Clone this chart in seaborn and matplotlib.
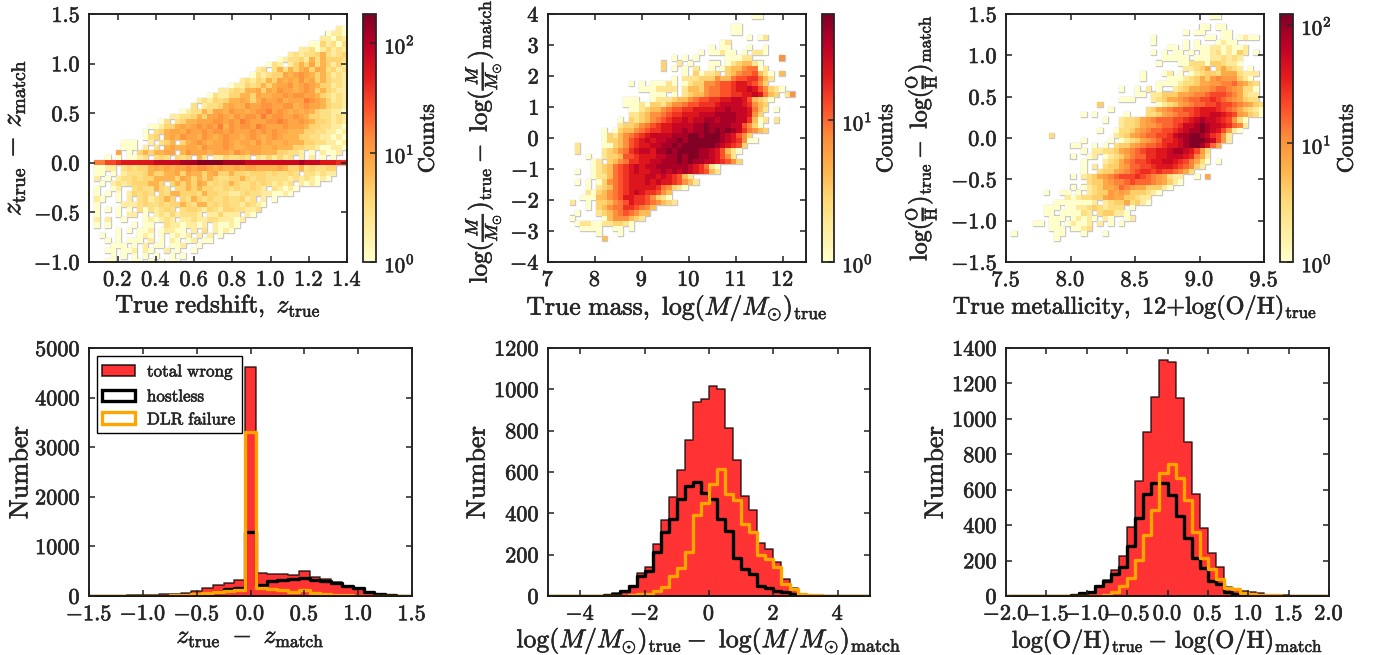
import numpy as np
import matplotlib
matplotlib.use("Agg")
import matplotlib.pyplot as plt
import matplotlib.patheffects as pe
from matplotlib.colors import LogNorm
from matplotlib.patches import Patch
from matplotlib.text import Text
import seaborn as sns

sns.set_style("ticks")
plt.rcParams["font.family"] = ["cmr10", "DejaVu Sans"]
plt.rcParams["mathtext.fontset"] = "cm"
plt.rcParams["axes.unicode_minus"] = False
plt.rcParams["axes.formatter.use_mathtext"] = True
plt.rcParams["axes.axisbelow"] = False

# cell readings: one character per 2d histogram cell
LEVELS = {"1": 1, "2": 2, "3": 3, "4": 4, "5": 7, "6": 9, "7": 12, "8": 16, "9": 22,
          "A": 30, "B": 40, "C": 55, "D": 80, "E": 120, "F": 180}

# each row, top to bottom: first column, then the cells from there
z_rows = [
    (46, "21"),
    (44, "1221"),
    (43, "22132"),
    (41, "1142313"),
    (39, "223124232"),
    (37, "23233453234"),
    (35, "1233425354443"),
    (33, "132.24546354242"),
    (31, "23.35354564653423"),
    (30, "132344656765454232"),
    (28, "23243546565756454332"),
    (26, "1224345456675676544232"),
    (24, "223435564657665676454322"),
    (22, "13224455465566767766543232"),
    (20, "2324345565457667566687654232"),
    (19, "3.233456557667766775676654332"),
    (17, "1233546657665677867656565433221"),
    (15, "223345466765767768677667654433232"),
    (13, "13.34556667767687666778766765443232"),
    (11, "1124456567676857677687666766654433221"),
    (10, "1.34566576676776766676767665554433221212"),
    (10, "134.56576657656766567656765554433221212"),
    (6, "111..2.345.456765667656657565565554433221212"),
    (6, "111.2.3.56556657666765566655655544332112212"),
    (5, "6.1.4545566.57666566657656655544332.1.2112"),
    (3, "1.1.1123.343.434.53.2243343.3242423.2.2.1.1"),
    (1, "88AABCCCCCCDDDDDEEEFFFFFEEEEDDDDDDDDDDEDDDCCCBBA9A"),
    (1, "1122.3434456565667677656556566555565445343344"),
    (1, "11.1.233345445564655456445443444343343.332322"),
    (1, "2.1.2334344555546545454334454344333323232121"),
    (2, "1.2323444554.45454653434543343432323.2121"),
    (1, "1..12..3433543.44545443343433432.32121"),
    (1, "1.1.1.24343.4355444354433223433221121"),
    (1, "21..1.2.3423454.43543433433423.2.1"),
    (1, "1....222343343445435534343324321"),
    (1, "1.1.1.1.3132343.344324324433223"),
    (1, "1...1.22.1.232423332.224222.21"),
    (1, "2.2..1...121232.223223322212"),
    (1, "1.1....1.11..32212212.21121"),
    (1, "....1.1.112.12211.2.3.2121"),
    (1, ".1..1...121.1.1212.2.2.1"),
    (1, "..1.1.111.2.1.21.12.11"),
    (1, "...111.1.2.11.112..1."),
    (1, "..11.112.21..2.1..1"),
    (1, "...1.1.1.1.1..1.1"),
    (2, ".11...11.1.1.11"),
]

mass_rows = [
    (38, "11"),
    (0, ""),
    (34, "11"),
    (34, "11"),
    (37, "1.12"),
    (32, "12"),
    (30, "1.11...1..1"),
    (28, "1.11211.1.221"),
    (21, "..1.1.1.....11122.....5"),
    (21, "3..2.1...11.1234421"),
    (21, "3.1.1.2..1.134456612"),
    (25, "1.31223.345667421.4"),
    (23, "1.22233354467788642"),
    (15, "1.1.11121.1233556778998753"),
    (17, "1112222.244356677899A975321"),
    (19, "111.1.2344566778899A9643.25"),
    (14, "111..122234456778899AA974321"),
    (14, "111213324556778889AAAA98543"),
    (15, "1123445677889999AABAAA9642.1"),
    (15, "2234556788999AAABBBBAA953"),
    (13, "1.3234567899A9AABBABBBAA8412.2"),
    (13, "2334567899AAAABBCBBBBAA7531"),
    (10, "1.13445678899AABABBCBCBCBA86543"),
    (10, "132456789AAAABBBCCBCCCBA9753"),
    (10, "13345789A9AABBCBCCDCCCBA98511"),
    (5, "2....113457899AABBCBCDCDCCBA9873"),
    (5, "2....2345689AA9BBCBCCCCBBA97421"),
    (7, "1..2334778999AABBCBCCBBA9752"),
    (8, "12.34568899AABBBCBCBBAA98753"),
    (8, "12346789A9AABBBBBBA98621"),
    (5, "1..12346789A99AABABABA98742"),
    (8, "1224678999AA9A98742"),
    (5, "1.1.135678999A9A9987542"),
    (7, "1.23467899999865321"),
    (7, "213456789A988754"),
    (6, "11144567998875321"),
    (4, "2..1.334567988765432"),
    (7, "1.34566887654"),
    (5, "1...2345676544"),
    (4, "1.....14555432"),
    (5, "12211223321"),
    (6, "1111..11.1"),
    (9, "1...1"),
    (10, "4"),
]

metal_rows = [
    (38, "11"),
    (0, ""),
    (36, "11.11"),
    (33, "1.11...11"),
    (27, "1.........11.11.1211"),
    (27, "1.....1.1...1211..."),
    (30, "11.1.1112212112"),
    (27, "1.1.11.1.112312142.1"),
    (29, "11111.111223232"),
    (28, "1...113331443221"),
    (31, "..22345.45432.1....1"),
    (25, "1...12.1.1234435553222.4"),
    (25, "1....1112345467666421"),
    (28, "1111233455667786543"),
    (21, "1..1.2.1..2345566788765331"),
    (24, "11.22444556778999875322"),
    (21, "111...23455678899A98765433"),
    (17, "4..........12345678899A9987654322"),
    (17, "..1......345678899ABBBA98754321"),
    (14, "1.1.....1...334567889ABBCCBA965431"),
    (18, "1..233456788899ABCDCCBA9631"),
    (21, "23345667889ACCDEDCCBA872"),
    (17, "1..13345678899ABCDDEDCB9621"),
    (8, "3...........2345678899ACDDEEDCA962"),
    (14, "1....1.12345678AABCDEFEDC962"),
    (12, "11..1.1.344567889ABBCDEEDB85"),
    (14, "1.2233456789AABBCDDCB963"),
    (12, "1..12.12345788AABBCCCBA752"),
    (14, "1...23457899ABBCCBA97531.1"),
    (14, "1.2.344568899ABBBA98742"),
    (14, "1..34456789AA9A998753"),
    (12, "1.2345678999A98765322..1.5"),
    (15, "344567789888765421"),
    (12, "1.12345568765544421"),
    (7, "1..11.1.23446565444321"),
    (11, "2123344565544322"),
    (9, "11111112.234453421"),
    (7, "111.11223432333.1"),
    (7, "11.111132.344221"),
    (8, "111.12121.21..12"),
    (5, "11.11.12112.2.1.1"),
    (8, "111.1123"),
    (1, "1.......11...1...1"),
    (9, "1"),
]

# redshift residual histogram, bins 0.1 wide centred from -1.5 to 1.5
z_wrong = [5, 5, 8, 10, 12, 15, 20, 40, 50, 65, 110, 170, 230, 270, 320, 4620,
           460, 450, 450, 420, 510, 380, 350, 280, 210, 170, 90, 50, 20, 10, 5]
z_hostless = [0, 0, 0, 0, 0, 2, 5, 8, 12, 15, 20, 40, 90, 150, 170, 1300,
              230, 300, 320, 340, 370, 330, 300, 270, 200, 160, 90, 45, 20, 8, 2]
z_dlr = [3, 3, 4, 5, 6, 8, 10, 10, 15, 25, 40, 60, 80, 100, 120, 3300,
         170, 140, 130, 90, 130, 60, 40, 30, 20, 10, 6, 4, 3, 2, 1]

# mass residual histogram, bins 0.25 wide from -5 to 5
mass_wrong = [1, 1, 1, 1, 1, 1, 2, 5, 15, 25, 50, 110, 140, 250, 370, 480,
              608, 755, 940, 953, 1014, 1000, 813, 658, 482, 415, 257, 226, 165, 84, 40, 12,
              6, 3, 2, 2, 1, 1, 1, 1]
mass_hostless = [0, 0, 0, 0, 0, 0, 0, 3, 10, 25, 50, 95, 120, 215, 310, 375,
                 470, 530, 550, 500, 470, 375, 315, 185, 130, 105, 50, 40, 25, 18, 8, 3,
                 1, 0, 0, 0, 0, 0, 0, 0]
mass_dlr = [2, 2, 2, 2, 2, 2, 2, 1, 2, 2, 3, 10, 12, 25, 45, 95,
            135, 215, 390, 450, 540, 615, 495, 465, 350, 310, 200, 180, 140, 60, 35, 12,
            6, 3, 2, 2, 2, 2, 2, 2]

# metallicity residual histogram, bins 0.1 wide from -2 to 2
metal_wrong = [1, 1, 1, 1, 1, 1, 2, 2, 5, 15, 25, 55, 90, 145, 225, 390, 650, 925, 1125, 1335,
               1320, 1120, 870, 575, 385, 240, 165, 50, 35, 30, 22, 15, 8, 5, 3, 2, 1, 1, 1, 1]
metal_hostless = [0, 0, 0, 0, 0, 0, 0, 2, 5, 15, 25, 55, 85, 125, 165, 285, 440, 575, 640, 640,
                  570, 450, 325, 215, 160, 85, 65, 20, 12, 3, 1, 0, 0, 0, 0, 0, 0, 0, 0, 0]
metal_dlr = [1, 1, 1, 1, 1, 1, 1, 1, 1, 1, 1, 2, 5, 20, 55, 100, 205, 345, 485, 695,
             745, 665, 540, 360, 215, 150, 95, 45, 40, 15, 10, 6, 4, 3, 2, 1, 1, 1, 1, 1]

W, H = 1379, 655
CMAP = plt.get_cmap("YlOrRd")
RED = "#ff0000"
HALO = "#c8c8c8"


def px_axes(fig, left, top, right, bottom):
    return fig.add_axes([left / W, 1 - bottom / H, (right - left) / W, (bottom - top) / H])


def tick_text(values, fmt):
    return [r"$\mathbf{" + (fmt % v) + "}$" for v in values]


def style_axes(ax, xticks, xfmt, yticks, yfmt):
    ax.set_xticks(xticks, labels=tick_text(xticks, xfmt))
    ax.set_yticks(yticks, labels=tick_text(yticks, yfmt))
    ax.tick_params(direction="in", top=True, right=True, length=4, width=1.1,
                   labelsize=16, pad=6, color="#222222")
    for s in ax.spines.values():
        s.set_linewidth(1.3)
        s.set_color("#111111")
    ax.grid(False)


def to_grid(rows, nrows, ncols=48):
    grid = np.zeros((nrows, ncols))
    for r, (start, cells) in enumerate(rows):
        for c, ch in enumerate(cells):
            if start + c < ncols:
                grid[r, start + c] = LEVELS.get(ch, 0)
    return grid[::-1]


def heat_panel(fig, box, cbox, rows, xedges, yedges, vmax, cticks, labelx):
    ax = px_axes(fig, *box)
    grid = to_grid(rows, len(yedges) - 1)
    xc = (xedges[:-1] + xedges[1:]) / 2
    yc = (yedges[:-1] + yedges[1:]) / 2
    xx, yy = np.meshgrid(xc, yc)
    keep = grid > 0
    # grey halo round the filled cells, the colour mesh covers its inner half
    dx = xedges[1] - xedges[0]
    dy = yedges[1] - yedges[0]
    ax.bar(xx[keep], dy, width=dx, bottom=yy[keep] - dy / 2, color=HALO, edgecolor=HALO, linewidth=1.0)
    sns.histplot(x=xx[keep], y=yy[keep], weights=grid[keep], bins=[xedges, yedges],
                 cmap=CMAP, thresh=0, ax=ax)
    mesh = ax.collections[-1]
    mesh.set_norm(LogNorm(1, vmax))
    cax = px_axes(fig, *cbox)
    cbar = fig.colorbar(mesh, cax=cax)
    cax.minorticks_off()
    cbar.set_ticks(cticks, labels=[r"$\mathbf{10^{%d}}$" % np.log10(t) for t in cticks])
    cax.tick_params(which="major", direction="in", length=4, width=1.1, labelsize=15, pad=6)
    cbar.outline.set_linewidth(1.3)
    cbar.set_label(r"$\mathrm{Counts}$", fontsize=16)
    cax.yaxis.set_label_coords(labelx, 0.5)
    return ax


def hist_panel(fig, box, edges, wrong, hostless, dlr):
    ax = px_axes(fig, *box)
    xc = (edges[:-1] + edges[1:]) / 2
    # bins as a plain list, seaborn compares it with "auto" when weights are given
    bins = edges.tolist()
    sns.histplot(x=xc, weights=wrong, bins=bins, element="step", color=RED, alpha=0.8,
                 edgecolor=(0, 0, 0, 0.7), linewidth=1.2, ax=ax)
    sns.histplot(x=xc, weights=hostless, bins=bins, element="step", fill=False,
                 color="black", linewidth=2.4, ax=ax)
    sns.histplot(x=xc, weights=dlr, bins=bins, element="step", fill=False,
                 color="orange", linewidth=2.4, ax=ax)
    ax.set_xlabel("")
    ax.set_ylabel("")
    return ax


fig = plt.figure(figsize=(W / 100, H / 100), dpi=100)

# redshift map
ax = heat_panel(fig, (89, 14, 347, 262), (363, 14, 376, 262), z_rows,
                np.linspace(0.05, 1.4, 49), -1.017 + 0.0521 * np.arange(47), 185,
                [1, 10, 100], 4.25)
ax.set_xlim(0.05, 1.4)
ax.set_ylim(-1, 1.5)
style_axes(ax, np.arange(0.2, 1.41, 0.2), "%.1f", np.arange(-1, 1.51, 0.5), "%.1f")
ax.set_xlabel(r"$\mathrm{True\ redshift,}\ z_{\mathrm{true}}$", fontsize=18, labelpad=2)
ax.set_ylabel(r"$z_{\mathrm{true}}\,-\,z_{\mathrm{match}}$", fontsize=20)
ax.yaxis.set_label_coords(-0.24, 0.5)

# mass map
ax = heat_panel(fig, (548, 14, 806, 262), (822, 14, 834, 262), mass_rows,
                np.linspace(7, 12.5, 49), np.linspace(4 - 44 / 6, 4, 45), 56,
                [1, 10], 4.55)
ax.set_xlim(7, 12.5)
ax.set_ylim(-4, 4)
style_axes(ax, np.arange(7, 12.1, 1), "%d", np.arange(-4, 4.1, 1), "%d")
ax.set_xlabel(r"$\mathrm{True\ mass,}\ \log(M/M_{\odot})_{\mathrm{true}}$", fontsize=18.5, labelpad=2)
ax.set_ylabel(r"$\log(\frac{M}{M_{\odot}})_{\mathrm{true}}-\ \log(\frac{M}{M_{\odot}})_{\mathrm{match}}$",
              fontsize=18)
ax.yaxis.set_label_coords(-0.174, 0.486)

# metallicity map
ax = heat_panel(fig, (1006, 14, 1264, 262), (1280, 14, 1293, 262), metal_rows,
                np.linspace(7.5, 9.5, 49), np.linspace(1.5 - 44 * 0.0625, 1.5, 45), 123,
                [1, 10, 100], 4.4)
ax.set_xlim(7.5, 9.5)
ax.set_ylim(-1.5, 1.5)
style_axes(ax, np.arange(7.5, 9.51, 0.5), "%.1f", np.arange(-1.5, 1.51, 0.5), "%.1f")
ax.set_xlabel(r"$\mathrm{True\ metallicity,\ 12{+}log(O/H)_{true}}$", fontsize=17.5, labelpad=2)
ax.set_ylabel(r"$\log(\frac{\mathrm{O}}{\mathrm{H}})_{\mathrm{true}}-\ \log(\frac{\mathrm{O}}{\mathrm{H}})_{\mathrm{match}}$",
              fontsize=17.3)
ax.yaxis.set_label_coords(-0.26, 0.5)

# redshift residuals
ax = hist_panel(fig, (89, 348, 412, 596), -1.55 + 0.1 * np.arange(32), z_wrong, z_hostless, z_dlr)
ax.set_xlim(-1.5, 1.5)
ax.set_ylim(0, 5000)
style_axes(ax, np.arange(-1.5, 1.51, 0.5), "%.1f", np.arange(0, 5001, 1000), "%d")
ax.set_xlabel(r"$z_{\mathrm{true}}\ -\ z_{\mathrm{match}}$", fontsize=18, labelpad=2)
ax.set_ylabel(r"$\mathrm{Number}$", fontsize=19)
ax.yaxis.set_label_coords(-0.175, 0.5)
handles = [Patch(facecolor=RED, alpha=0.8, edgecolor="black", linewidth=1.2),
           Patch(facecolor="none", edgecolor="black", linewidth=2.4),
           Patch(facecolor="none", edgecolor="orange", linewidth=2.4)]
ax.legend(handles, [r"$\mathrm{total\ wrong}$", r"$\mathrm{hostless}$", r"$\mathrm{DLR\ failure}$"],
          loc="upper left", fontsize=12.3, frameon=True, fancybox=False, framealpha=1,
          edgecolor="black", borderaxespad=0.47, labelspacing=0.35,
          handlelength=1.9, handletextpad=0.7, borderpad=0.32)

# mass residuals
ax = hist_panel(fig, (548, 348, 870, 596), -5 + 0.25 * np.arange(41), mass_wrong, mass_hostless, mass_dlr)
ax.set_xlim(-5, 5)
ax.set_ylim(0, 1200)
style_axes(ax, np.arange(-4, 4.1, 2), "%d", np.arange(0, 1201, 200), "%d")
ax.set_xlabel(r"$\log(M/M_{\odot})_{\mathrm{true}}-\ \log(M/M_{\odot})_{\mathrm{match}}$", fontsize=18.5, labelpad=1)
ax.set_ylabel(r"$\mathrm{Number}$", fontsize=19)
ax.yaxis.set_label_coords(-0.181, 0.5)

# metallicity residuals
ax = hist_panel(fig, (1006, 348, 1329, 596), -2 + 0.1 * np.arange(41), metal_wrong, metal_hostless, metal_dlr)
ax.set_xlim(-2, 2)
ax.set_ylim(0, 1400)
style_axes(ax, np.arange(-2, 2.01, 0.5), "%.1f", np.arange(0, 1401, 200), "%d")
ax.set_xlabel(r"$\mathrm{log(O/H)_{true}}-\,\mathrm{log(O/H)_{match}}$", fontsize=17.5, labelpad=2)
ax.set_ylabel(r"$\mathrm{Number}$", fontsize=19)
ax.yaxis.set_label_coords(-0.18, 0.5)

# the reference text is heavier than plain cm at this size
for t in fig.findobj(Text):
    t.set_path_effects([pe.withStroke(linewidth=0.45, foreground=t.get_color())])

fig.savefig("out.png", dpi=100)
